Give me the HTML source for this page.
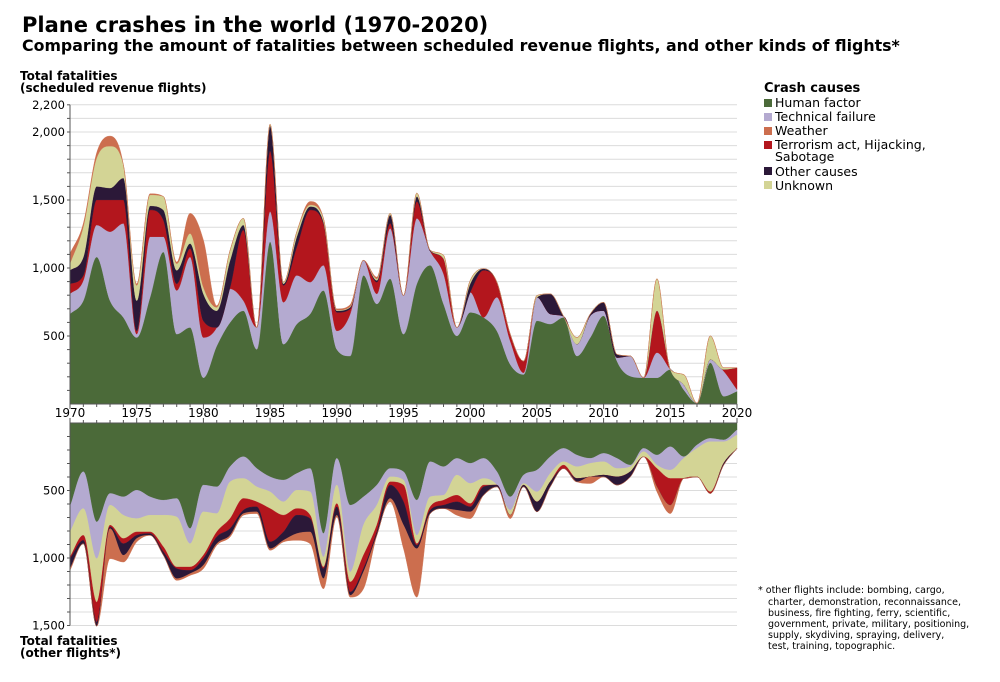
<!DOCTYPE html>
<html><head><meta charset="utf-8"><style>
body{margin:0;background:#fff;width:1000px;height:682px;overflow:hidden;font-family:"DejaVu Sans","Liberation Sans",sans-serif}
svg{position:absolute;left:0;top:0}
</style></head><body>
<svg id="chart" width="1000" height="682" xmlns="http://www.w3.org/2000/svg" font-family="DejaVu Sans, Liberation Sans, sans-serif">
<text x="22" y="32" font-size="21" font-weight="bold">Plane crashes in the world (1970-2020)</text>
<text x="22" y="51" font-size="15.8" font-weight="bold">Comparing the amount of fatalities between scheduled revenue flights, and other kinds of flights*</text>
<text font-size="12" font-weight="bold"><tspan x="20" y="80">Total fatalities</tspan><tspan x="20" y="92">(scheduled revenue flights)</tspan></text>
<text font-size="12" font-weight="bold"><tspan x="20" y="645">Total fatalities</tspan><tspan x="20" y="657">(other flights*)</tspan></text>
<g id="grid"></g><g id="areas"></g><g id="axes"></g>
<g font-size="12.5">
<text x="764" y="92" font-size="13" font-weight="bold">Crash causes</text>
<rect x="764" y="99" width="8" height="8" fill="#4b6a39"/><text x="775" y="107">Human factor</text>
<rect x="764" y="113" width="8" height="8" fill="#b4aad0"/><text x="775" y="121">Technical failure</text>
<rect x="764" y="127" width="8" height="8" fill="#cc6e4e"/><text x="775" y="135">Weather</text>
<rect x="764" y="141" width="8" height="8" fill="#b3161d"/><text x="775" y="149"><tspan>Terrorism act, Hijacking,</tspan><tspan x="775" y="161">Sabotage</tspan></text>
<rect x="764" y="167" width="8" height="8" fill="#2b1838"/><text x="775" y="176">Other causes</text>
<rect x="764" y="181" width="8" height="8" fill="#d3d495"/><text x="775" y="190">Unknown</text>
</g>
<text font-size="9.5">
<tspan x="758" y="593">*  other flights include: bombing, cargo,</tspan>
<tspan x="768" y="605">charter, demonstration, reconnaissance,</tspan>
<tspan x="768" y="616">business, fire fighting, ferry, scientific,</tspan>
<tspan x="768" y="627">government, private, military, positioning,</tspan>
<tspan x="768" y="638">supply, skydiving, spraying, delivery,</tspan>
<tspan x="768" y="649">test, training, topographic.</tspan>
</text>
</svg>
<script>
const years = Array.from({length:51},(_, i)=>1970+i);
// Top chart (scheduled revenue flights), stacked bottom->top
const topHuman=[662,760,1081,760,637,489,785,1118,514,563,193,427,600,686,402,1193,440,588,662,835,402,353,946,736,921,514,884,1020,736,501,674,637,538,291,217,612,588,637,353,489,649,316,205,193,193,254,106,7,304,57,94];
const topTech=[148,149,235,507,691,25,445,112,321,518,296,136,247,74,161,222,308,358,234,185,136,309,111,74,370,284,481,105,222,62,148,0,247,173,13,173,74,8,87,160,37,25,148,0,185,0,37,0,24,185,12];
const topTerror=[74,37,185,234,173,24,197,123,49,62,123,0,12,519,0,444,124,210,531,308,136,37,0,86,37,0,124,0,111,0,0,346,111,50,86,0,0,0,0,0,0,0,0,0,308,0,0,0,0,12,161];
const topOther=[99,135,99,87,161,222,30,74,99,37,198,123,198,37,0,185,12,74,25,12,12,12,0,13,62,0,37,6,0,0,62,12,0,0,0,0,148,0,0,13,62,24,0,0,0,0,0,0,0,0,0];
const topUnknown=[49,223,210,308,98,112,81,99,49,74,49,25,74,49,0,13,12,37,12,25,5,5,0,12,12,0,25,0,25,0,25,0,0,0,0,13,0,0,49,0,0,0,0,0,235,0,74,0,173,13,0];
const topWeather=[74,24,37,74,0,12,8,0,12,148,346,12,0,0,0,0,0,0,25,0,8,14,0,12,0,0,0,0,0,0,0,0,0,0,0,0,0,0,0,0,0,0,0,0,0,0,0,0,0,0,0];
// Bottom chart (other flights), stacked top->down
const botHuman=[621,361,733,522,547,498,547,572,559,782,460,473,324,250,337,399,423,374,337,819,262,609,547,460,337,361,572,287,324,262,299,262,361,547,386,349,250,188,238,262,225,262,312,188,238,176,250,163,114,126,52];
const botTech=[186,273,272,87,136,210,136,111,137,112,198,198,112,161,136,111,161,124,173,174,198,495,210,149,62,62,260,260,211,124,149,149,99,99,62,161,124,99,86,37,62,75,12,25,74,173,12,25,25,13,37];
const botUnknown=[186,198,322,148,173,99,124,235,371,173,322,136,272,148,111,124,99,136,173,74,137,74,223,148,37,37,62,74,37,149,149,49,0,37,12,74,62,25,87,100,99,62,37,37,25,62,149,211,371,160,99];
const botTerror=[12,37,148,13,38,25,12,37,12,25,25,37,74,87,37,247,124,49,25,12,24,74,99,50,24,124,12,25,37,49,24,13,0,0,0,0,0,25,0,0,0,0,0,0,136,198,0,0,12,0,0];
const botOther=[74,25,30,12,86,24,13,25,74,24,49,50,50,25,37,50,62,136,99,74,62,25,25,25,99,173,25,25,25,62,37,62,13,0,13,74,37,0,25,0,13,61,38,0,0,0,0,0,0,13,0];
const botWeather=[13,0,0,223,50,25,0,0,13,13,25,12,12,12,13,12,12,50,87,75,13,13,124,0,25,174,359,0,0,37,50,0,0,25,0,0,0,0,0,49,0,0,0,0,37,62,0,0,0,0,0];
const topTicks=[500,1000,1500,2000,2200];
const topTickLabels=["500","1,000","1,500","2,000","2,200"];
const botTicks=[500,1000,1500];
const botTickLabels=["500","1,000","1,500"];
const yearLabels=[1970,1975,1980,1985,1990,1995,2000,2005,2010,2015,2020];

const NS="http://www.w3.org/2000/svg";
const X0=70,X1=737;
const xS=y=>X0+(y-1970)*(X1-X0)/50;
const yTop=v=>404-v*0.136;
const yBot=v=>423+v*0.135;
function mk(tag,attrs,parent){const e=document.createElementNS(NS,tag);for(const k in attrs)e.setAttribute(k,attrs[k]);parent.appendChild(e);return e;}
const grid=document.getElementById('grid'),areas=document.getElementById('areas'),axes=document.getElementById('axes');

for(let v=100;v<=2200;v+=100){const g=mk('line',{x1:X0,x2:X1,y1:yTop(v),y2:yTop(v),stroke:'#dcdcdc','stroke-width':1},grid);

}
for(let v=100;v<=1500;v+=100){const g=mk('line',{x1:X0,x2:X1,y1:yBot(v),y2:yBot(v),stroke:'#dcdcdc','stroke-width':1},grid);

}

function curve(xs,ys){
  const n=xs.length,d=[],m=[];
  for(let i=0;i<n-1;i++)d.push((ys[i+1]-ys[i])/(xs[i+1]-xs[i]));
  m[0]=d[0];m[n-1]=d[n-2];
  for(let i=1;i<n-1;i++){m[i]=(d[i-1]*d[i]<=0)?0:(d[i-1]+d[i])/2;}
  for(let i=0;i<n-1;i++){if(d[i]===0){m[i]=0;m[i+1]=0;continue;}const a=m[i]/d[i],b=m[i+1]/d[i],s=a*a+b*b;if(s>9){const t=3/Math.sqrt(s);m[i]=t*a*d[i];m[i+1]=t*b*d[i];}}
  let p='';
  for(let i=0;i<n-1;i++){const h=(xs[i+1]-xs[i])/3;
    p+=' C'+(xs[i]+h).toFixed(2)+','+(ys[i]+m[i]*h).toFixed(2)+' '+(xs[i+1]-h).toFixed(2)+','+(ys[i+1]-m[i+1]*h).toFixed(2)+' '+xs[i+1].toFixed(2)+','+ys[i+1].toFixed(2);}
  return p;
}
function drawStack(series,colors,names,yf,prefix){
  let base=years.map(()=>0);
  const xs=years.map(xS);
  series.forEach((s,k)=>{
    const top=base.map((b,i)=>b+s[i]);
    const yt=top.map(yf),yb=base.map(yf);
    let p='M'+xs[0]+','+yt[0]+curve(xs,yt);
    const rx=xs.slice().reverse(),ry=yb.slice().reverse();
    p+=' L'+rx[0]+','+ry[0]+curve(rx,ry)+' Z';
    const e=mk('path',{d:p,fill:colors[k],stroke:colors[k],'stroke-width':0.4},areas);
    
    
    base=top;
  });
}
const C={h:'#4b6a39',t:'#b4aad0',r:'#b3161d',o:'#2b1838',u:'#d3d495',w:'#cc6e4e'};
drawStack([topHuman,topTech,topTerror,topOther,topUnknown,topWeather],[C.h,C.t,C.r,C.o,C.u,C.w],['human-factor','technical-failure','terrorism','other-causes','unknown','weather'],yTop,'top');
drawStack([botHuman,botTech,botUnknown,botTerror,botOther,botWeather],[C.h,C.t,C.u,C.r,C.o,C.w],['human-factor','technical-failure','unknown','terrorism','other-causes','weather'],yBot,'bottom');

let a=mk('line',{x1:X0,x2:X0,y1:yTop(2200),y2:yTop(0),stroke:'#555','stroke-width':1},axes);

a=mk('line',{x1:X0,x2:X1,y1:yTop(0),y2:yTop(0),stroke:'#555','stroke-width':1},axes);

a=mk('line',{x1:X0,x2:X0,y1:yBot(0),y2:yBot(1500),stroke:'#555','stroke-width':1},axes);

a=mk('line',{x1:X0,x2:X1,y1:yBot(0),y2:yBot(0),stroke:'#555','stroke-width':1},axes);

for(let v=100;v<=2200;v+=100){const t=mk('line',{x1:X0-3,x2:X0,y1:yTop(v),y2:yTop(v),stroke:'#555'},axes);}
for(let v=100;v<=1500;v+=100){const t=mk('line',{x1:X0-3,x2:X0,y1:yBot(v),y2:yBot(v),stroke:'#555'},axes);}
topTicks.forEach((v,i)=>{const t=mk('text',{x:X0-5,y:yTop(v)+4,'font-size':11.5,'text-anchor':'end'},axes);t.textContent=topTickLabels[i];
});
botTicks.forEach((v,i)=>{const t=mk('text',{x:X0-5,y:yBot(v)+4,'font-size':11.5,'text-anchor':'end'},axes);t.textContent=botTickLabels[i];
});
years.forEach(y=>{const big=y%5===0;
 let t=mk('line',{x1:xS(y),x2:xS(y),y1:yTop(0),y2:yTop(0)+(big?5:3),stroke:'#555'},axes);
 t=mk('line',{x1:xS(y),x2:xS(y),y1:yBot(0)-(big?5:3),y2:yBot(0),stroke:'#555'},axes);});
yearLabels.forEach(y=>{const t=mk('text',{x:xS(y),y:417,'font-size':12,'text-anchor':'middle'},axes);t.textContent=y;
});
</script>
</body></html>
